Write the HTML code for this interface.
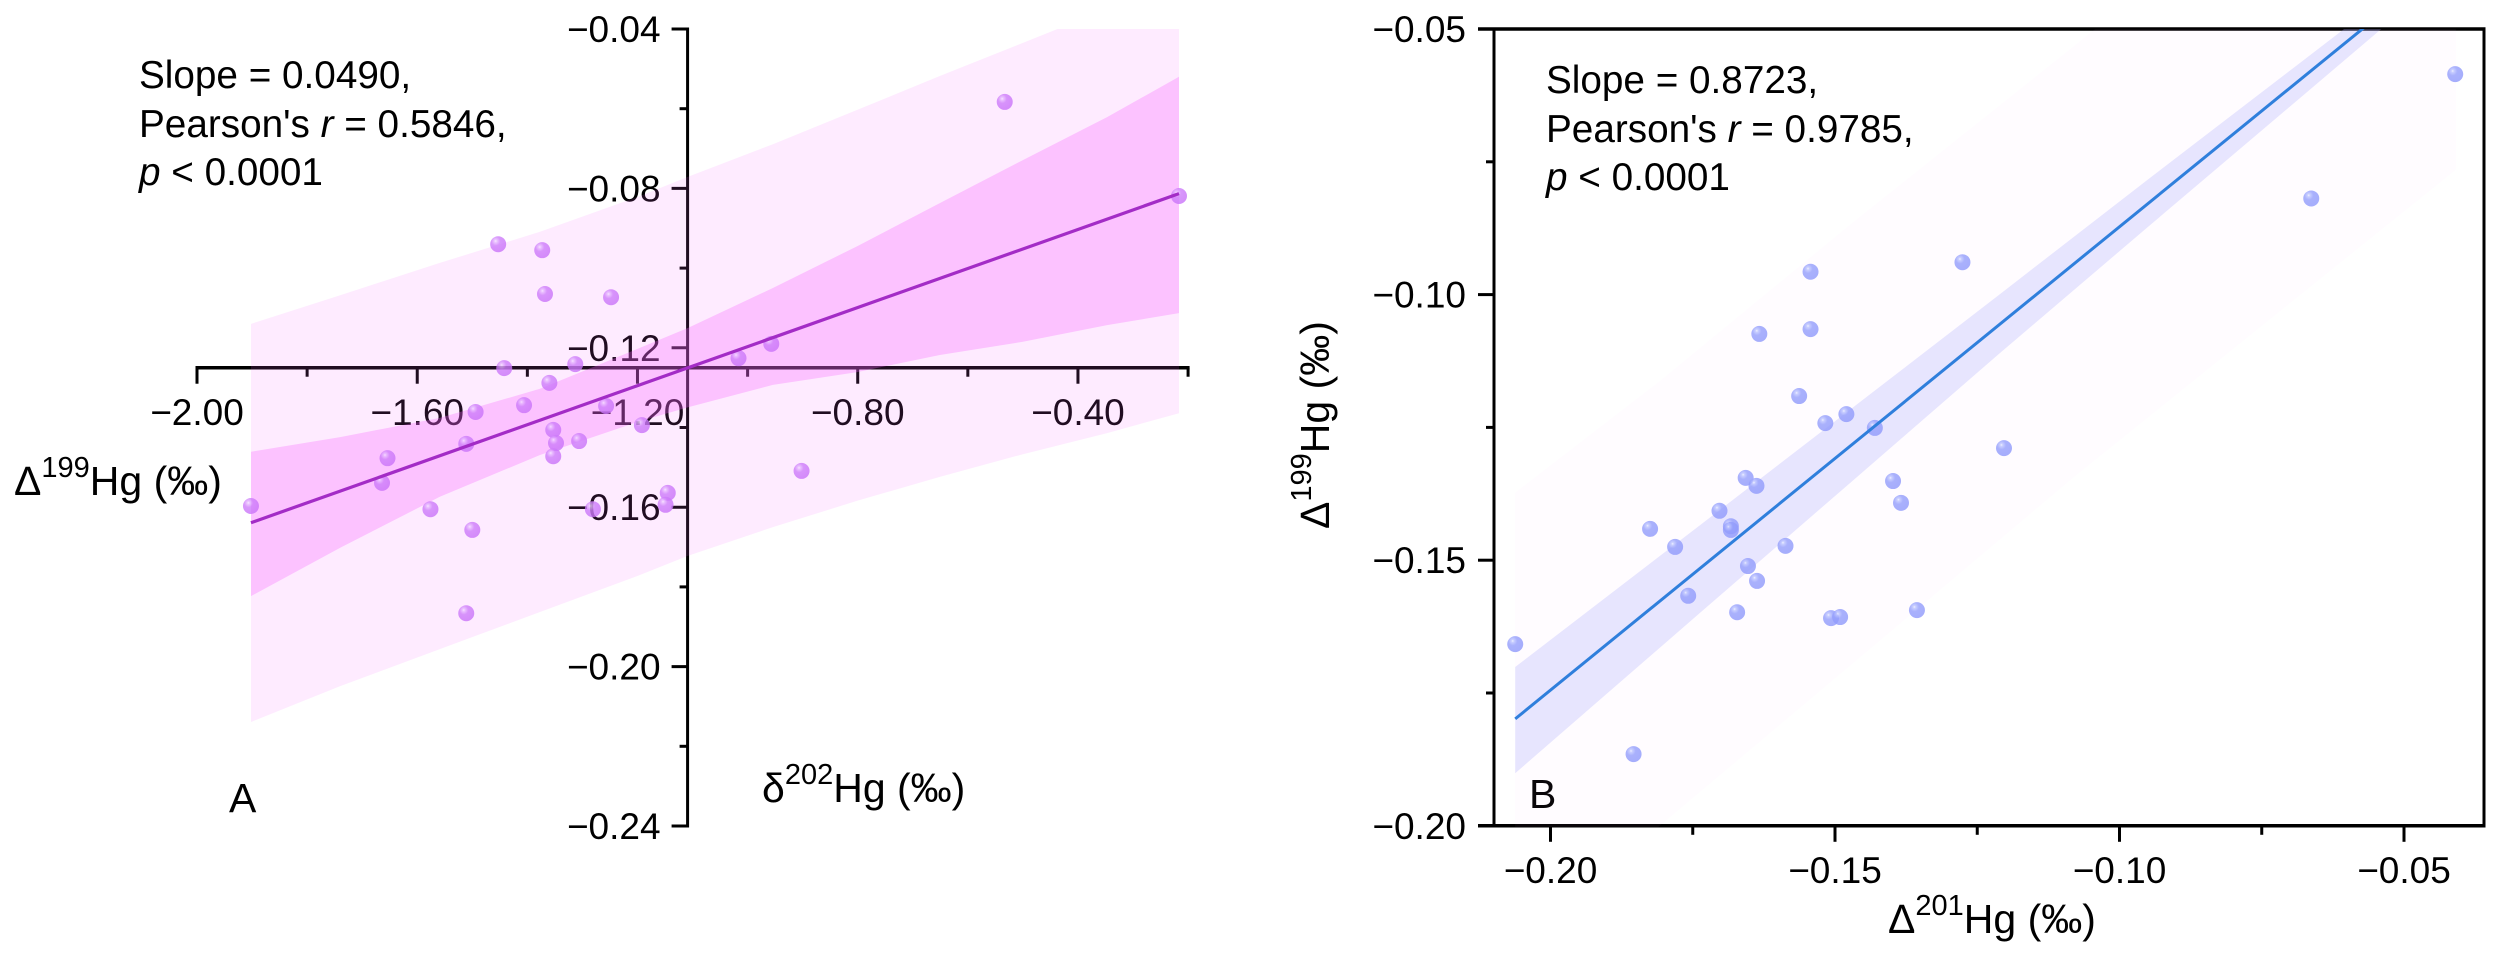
<!DOCTYPE html>
<html lang="en">
<head>
<meta charset="utf-8">
<title>Hg isotope correlation plots</title>
<style>
html,body{margin:0;padding:0;background:#fff;}
svg{display:block;}
text{font-family:"Liberation Sans","DejaVu Sans",sans-serif;fill:#000;}
</style>
</head>
<body>
<svg id="fig" xmlns="http://www.w3.org/2000/svg" width="2500" height="956" viewBox="0 0 2500 956">
  <defs>
    <radialGradient id="ptA" cx="0.36" cy="0.32" r="0.7" fx="0.34" fy="0.3">
      <stop offset="0" stop-color="#f6e4ff"/>
      <stop offset="0.12" stop-color="#e6b8ff"/>
      <stop offset="0.4" stop-color="#ce7dfa"/>
      <stop offset="1" stop-color="#c972f9"/>
    </radialGradient>
    <radialGradient id="ptB" cx="0.36" cy="0.32" r="0.7" fx="0.34" fy="0.3">
      <stop offset="0" stop-color="#eef0ff"/>
      <stop offset="0.12" stop-color="#bcc4ff"/>
      <stop offset="0.4" stop-color="#949efc"/>
      <stop offset="1" stop-color="#8f99fb"/>
    </radialGradient>
    <clipPath id="clipA"><rect x="150" y="29" width="1100" height="800"/></clipPath>
    <clipPath id="clipB"><rect x="1494" y="29" width="990" height="798"/></clipPath>
  </defs>
  <g id="panelA">
    <g id="axesA"></g>
    <text x="139" y="88" font-size="38.7">Slope = 0.0490,</text>
    <text x="139" y="137" font-size="38.7">Pearson's <tspan font-style="italic">r</tspan> = 0.5846,</text>
    <text x="139" y="185" font-size="38.7"><tspan font-style="italic">p</tspan> &lt; 0.0001</text>
    <text x="14" y="495" font-size="41">Δ<tspan dy="-18" font-size="29">199</tspan><tspan dy="18">Hg (‰)</tspan></text>
    <text x="762" y="802" font-size="41">δ<tspan dy="-18" font-size="29">202</tspan><tspan dy="18">Hg (‰)</tspan></text>
    <text x="229" y="812" font-size="41">A</text>
    <g id="marksA"></g>
  </g>
  <g id="panelB">
    <g id="axesB"></g>
    <text x="1546" y="93" font-size="38.7">Slope = 0.8723,</text>
    <text x="1546" y="142" font-size="38.7">Pearson's <tspan font-style="italic">r</tspan> = 0.9785,</text>
    <text x="1546" y="190" font-size="38.7"><tspan font-style="italic">p</tspan> &lt; 0.0001</text>
    <text transform="translate(1329 529) rotate(-90)" font-size="41">Δ<tspan dy="-18" font-size="29">199</tspan><tspan dy="18">Hg (‰)</tspan></text>
    <text x="1888" y="933" font-size="41">Δ<tspan dy="-18" font-size="29">201</tspan><tspan dy="18">Hg (‰)</tspan></text>
    <text x="1529" y="808" font-size="41">B</text>
    <g id="marksB"></g>
  </g>
</svg>
<script>
/* ---------- Panel A data ---------- */
const aXValues = [-0.533,-0.2165,-1.453,-1.373,-1.368,-1.248,-0.957,-1.0165,-1.442,-1.313,-1.360,-1.406,-1.494,-1.257,-1.192,-1.353,-1.348,-1.306,-1.511,-1.654,-1.353,-0.902,-1.664,-1.902,-1.576,-1.500,-1.511,-1.281,-1.145,-1.149];
const aYValues = [-0.0583,-0.0819,-0.0940,-0.0955,-0.1065,-0.1073,-0.1190,-0.1226,-0.1251,-0.1241,-0.1288,-0.1344,-0.1361,-0.1346,-0.1394,-0.1406,-0.1439,-0.1434,-0.1441,-0.1477,-0.1472,-0.1509,-0.1539,-0.1597,-0.1605,-0.1657,-0.1866,-0.1605,-0.1564,-0.1594];
const aFitEnds = [-1.902,-0.2165];
const aFitSlope = 0.0490;
const aFitIntercept = -0.0707;
const aBandX = [-1.902,-1.740,-1.559,-1.377,-1.195,-1.108,-0.954,-0.801,-0.651,-0.500,-0.347,-0.2165];
const aCiUpper = [-0.1461,-0.1424,-0.1376,-0.1303,-0.1200,-0.1150,-0.1050,-0.0945,-0.0837,-0.0729,-0.0621,-0.0520];
const aCiLower = [-0.1823,-0.1702,-0.1574,-0.1469,-0.1384,-0.1349,-0.1293,-0.1261,-0.1218,-0.1185,-0.1143,-0.1113];
const aPiUpper = [-0.1140,-0.1068,-0.0987,-0.0909,-0.0819,-0.0771,-0.0689,-0.0603,-0.0518,-0.0435,-0.0350,-0.0277];
const aPiLower = [-0.2139,-0.2049,-0.1956,-0.1863,-0.1770,-0.1722,-0.1650,-0.1584,-0.1524,-0.1467,-0.1414,-0.1364];
const aXMajor = [-2.0,-1.6,-1.2,-0.8,-0.4];
const aXMajorLabels = ["−2.00","−1.60","−1.20","−0.80","−0.40"];
const aXMinor = [-1.8,-1.4,-1.0,-0.6,-0.2];
const aYMajor = [-0.04,-0.08,-0.12,-0.16,-0.20,-0.24];
const aYMajorLabels = ["−0.04","−0.08","−0.12","−0.16","−0.20","−0.24"];
const aYMinor = [-0.06,-0.10,-0.14,-0.18,-0.22];

/* ---------- Panel B data ---------- */
const bXValues = [-0.0410,-0.0663,-0.1276,-0.1543,-0.1633,-0.1543,-0.1563,-0.1480,-0.1517,-0.1430,-0.1203,-0.1657,-0.1398,-0.1638,-0.1384,-0.1703,-0.1825,-0.1683,-0.1683,-0.1781,-0.1587,-0.1653,-0.1637,-0.1758,-0.1672,-0.1507,-0.1491,-0.1356,-0.2062,-0.1854];
const bYValues = [-0.0585,-0.0819,-0.0939,-0.0957,-0.1074,-0.1065,-0.1191,-0.1225,-0.1242,-0.1251,-0.1289,-0.1345,-0.1351,-0.1360,-0.1392,-0.1407,-0.1441,-0.1436,-0.1443,-0.1475,-0.1473,-0.1511,-0.1539,-0.1567,-0.1598,-0.1609,-0.1607,-0.1594,-0.1658,-0.1865];
const bFitEnds = [-0.2062,-0.041];
const bFitSlope = 0.8723;
const bFitIntercept = 0.0;
const bCiX = [-0.2062,-0.1737,-0.1474,-0.1210,-0.0946,-0.0683,-0.0507];
const bCiUpper = [-0.1701,-0.1434,-0.1217,-0.0999,-0.0780,-0.0564,-0.0419];
const bCiLower = [-0.1901,-0.1599,-0.1355,-0.1110,-0.0869,-0.0630,-0.0470];
const bPiX = [-0.2062,-0.1808,-0.1474,-0.1082,-0.0683,-0.0409];
const bPiUpper = [-0.1373,-0.1163,-0.0869,-0.0534,-0.0188,0.0052];
const bPiLower = [-0.2232,-0.2000,-0.1699,-0.1345,-0.1001,-0.0765];
const bXMajor = [-0.20,-0.15,-0.10,-0.05];
const bXMajorLabels = ["−0.20","−0.15","−0.10","−0.05"];
const bXMinor = [-0.175,-0.125,-0.075];
const bYMajor = [-0.05,-0.10,-0.15,-0.20];
const bYMajorLabels = ["−0.05","−0.10","−0.15","−0.20"];
const bYMinor = [-0.075,-0.125,-0.175];

/* ---------- Axis functions ---------- */
const xA = v => 197 + (v + 2) * 550.6;
const yA = v => 29 + (-0.04 - v) * 3985;
const xB = v => 1550.5 + (v + 0.2) * 5690;
const yB = v => 29 + (-0.05 - v) * 5312;

const NS = 'http://www.w3.org/2000/svg';
function make(tag, parent) {
  const el = document.createElementNS(NS, tag);
  parent.appendChild(el);
  return el;
}
function segment(parent, x1, y1, x2, y2, w) {
  const el = make('line', parent);
  el.setAttribute('x1', x1);
  el.setAttribute('y1', y1);
  el.setAttribute('x2', x2);
  el.setAttribute('y2', y2);
  el.setAttribute('stroke', '#000');
  el.setAttribute('stroke-width', w);
  return el;
}
function label(parent, x, y, anchor, str) {
  const el = make('text', parent);
  el.setAttribute('x', x);
  el.setAttribute('y', y);
  el.setAttribute('text-anchor', anchor);
  el.setAttribute('font-size', '37');
  el.textContent = str;
  return el;
}
function bandPath(xs, hi, lo, fx, fy) {
  const up = xs.map((x, i) => fx(x).toFixed(1) + ',' + fy(hi[i]).toFixed(1));
  const dn = xs.map((x, i) => fx(x).toFixed(1) + ',' + fy(lo[i]).toFixed(1)).reverse();
  return 'M' + up.concat(dn).join('L') + 'Z';
}
function band(parent, xs, hi, lo, fx, fy, alpha, clip) {
  const el = make('path', parent);
  el.setAttribute('d', bandPath(xs, hi, lo, fx, fy));
  el.setAttribute('fill', 'rgb(250,100,255)');
  el.setAttribute('fill-opacity', alpha);
  el.setAttribute('clip-path', clip);
  return el;
}

/* ---------- Panel A axes ---------- */
const axesA = document.getElementById('axesA');
const aXAxisY = yA(-0.125);
const aYAxisX = xA(-1.109);
const aXLine = segment(axesA, xA(-2) - 1.5, aXAxisY, xA(-0.2) + 1.5, aXAxisY, 3.5);


const aYLine = segment(axesA, aYAxisX, yA(-0.04) - 1.5, aYAxisX, yA(-0.24) + 1.5, 3);


aXMajor.forEach((v, i) => {
  const t = segment(axesA, xA(v), aXAxisY, xA(v), aXAxisY + 16, 3);
  
  
  const l = label(axesA, xA(v), 425, 'middle', aXMajorLabels[i]);
  
  
});
aXMinor.forEach(v => {
  const t = segment(axesA, xA(v), aXAxisY, xA(v), aXAxisY + 9, 3);
  
  
});
aYMajor.forEach((v, i) => {
  const t = segment(axesA, aYAxisX - 16, yA(v), aYAxisX, yA(v), 3);
  
  
  const l = label(axesA, aYAxisX - 27, yA(v) + 13, 'end', aYMajorLabels[i]);
  
  
});
aYMinor.forEach(v => {
  const t = segment(axesA, aYAxisX - 8, yA(v), aYAxisX, yA(v), 3);
  
  
});

/* ---------- Panel A marks ---------- */
const marksA = document.getElementById('marksA');
const aPi = band(marksA, aBandX, aPiUpper, aPiLower, xA, yA, '0.13', 'url(#clipA)');


const aCi = band(marksA, aBandX, aCiUpper, aCiLower, xA, yA, '0.3', 'url(#clipA)');


aXValues.forEach((v, i) => {
  const c = make('circle', marksA);
  c.setAttribute('cx', xA(v));
  c.setAttribute('cy', yA(aYValues[i]));
  c.setAttribute('r', '8');
  c.setAttribute('fill', 'url(#ptA)');
  c.setAttribute('fill-opacity', '0.8');
  
  
});
const aFit = segment(marksA, xA(aFitEnds[0]), yA(aFitSlope * aFitEnds[0] + aFitIntercept), xA(aFitEnds[1]), yA(aFitSlope * aFitEnds[1] + aFitIntercept), 3.2);
aFit.setAttribute('stroke', '#a32cc6');



/* ---------- Panel B axes ---------- */
const axesB = document.getElementById('axesB');
const bLeft = 1494, bRight = 2484, bTop = yB(-0.05), bBottom = yB(-0.20);
const bLineTop = segment(axesB, bLeft - 16, bTop, bRight + 1.5, bTop, 3.5);


const bLineBottom = segment(axesB, bLeft - 16, bBottom, bRight + 1.5, bBottom, 3.5);


const bLineLeft = segment(axesB, bLeft, bTop, bLeft, bBottom, 3);


const bLineRight = segment(axesB, bRight, bTop, bRight, bBottom, 3);


bXMajor.forEach((v, i) => {
  const t = segment(axesB, xB(v), bBottom, xB(v), bBottom + 16, 3);
  
  
  const l = label(axesB, xB(v), 883, 'middle', bXMajorLabels[i]);
  
  
});
bXMinor.forEach(v => {
  const t = segment(axesB, xB(v), bBottom, xB(v), bBottom + 9, 3);
  
  
});
bYMajor.forEach((v, i) => {
  const t = segment(axesB, bLeft - 16, yB(v), bLeft, yB(v), 3);
  
  
  const l = label(axesB, bLeft - 28, yB(v) + 13, 'end', bYMajorLabels[i]);
  
  
});
bYMinor.forEach(v => {
  const t = segment(axesB, bLeft - 8, yB(v), bLeft, yB(v), 3);
  
  
});

/* ---------- Panel B marks ---------- */
const marksB = document.getElementById('marksB');
const bPi = make('path', marksB);
bPi.setAttribute('d', bandPath(bPiX, bPiUpper, bPiLower, xB, yB));
bPi.setAttribute('fill', 'rgb(245,180,255)');
bPi.setAttribute('fill-opacity', '0.04');
bPi.setAttribute('clip-path', 'url(#clipB)');


const bCi = make('path', marksB);
bCi.setAttribute('d', bandPath(bCiX, bCiUpper, bCiLower, xB, yB));
bCi.setAttribute('fill', 'rgb(170,170,250)');
bCi.setAttribute('fill-opacity', '0.28');
bCi.setAttribute('clip-path', 'url(#clipB)');


bXValues.forEach((v, i) => {
  const c = make('circle', marksB);
  c.setAttribute('cx', xB(v));
  c.setAttribute('cy', yB(bYValues[i]));
  c.setAttribute('r', '8');
  c.setAttribute('fill', 'url(#ptB)');
  c.setAttribute('fill-opacity', '0.8');
  
  
});
const bFit = segment(marksB, xB(bFitEnds[0]), yB(bFitSlope * bFitEnds[0] + bFitIntercept), xB(bFitEnds[1]), yB(bFitSlope * bFitEnds[1] + bFitIntercept), 3);
bFit.setAttribute('stroke', '#2f7fdc');
bFit.setAttribute('clip-path', 'url(#clipB)');


</script>
</body>
</html>
